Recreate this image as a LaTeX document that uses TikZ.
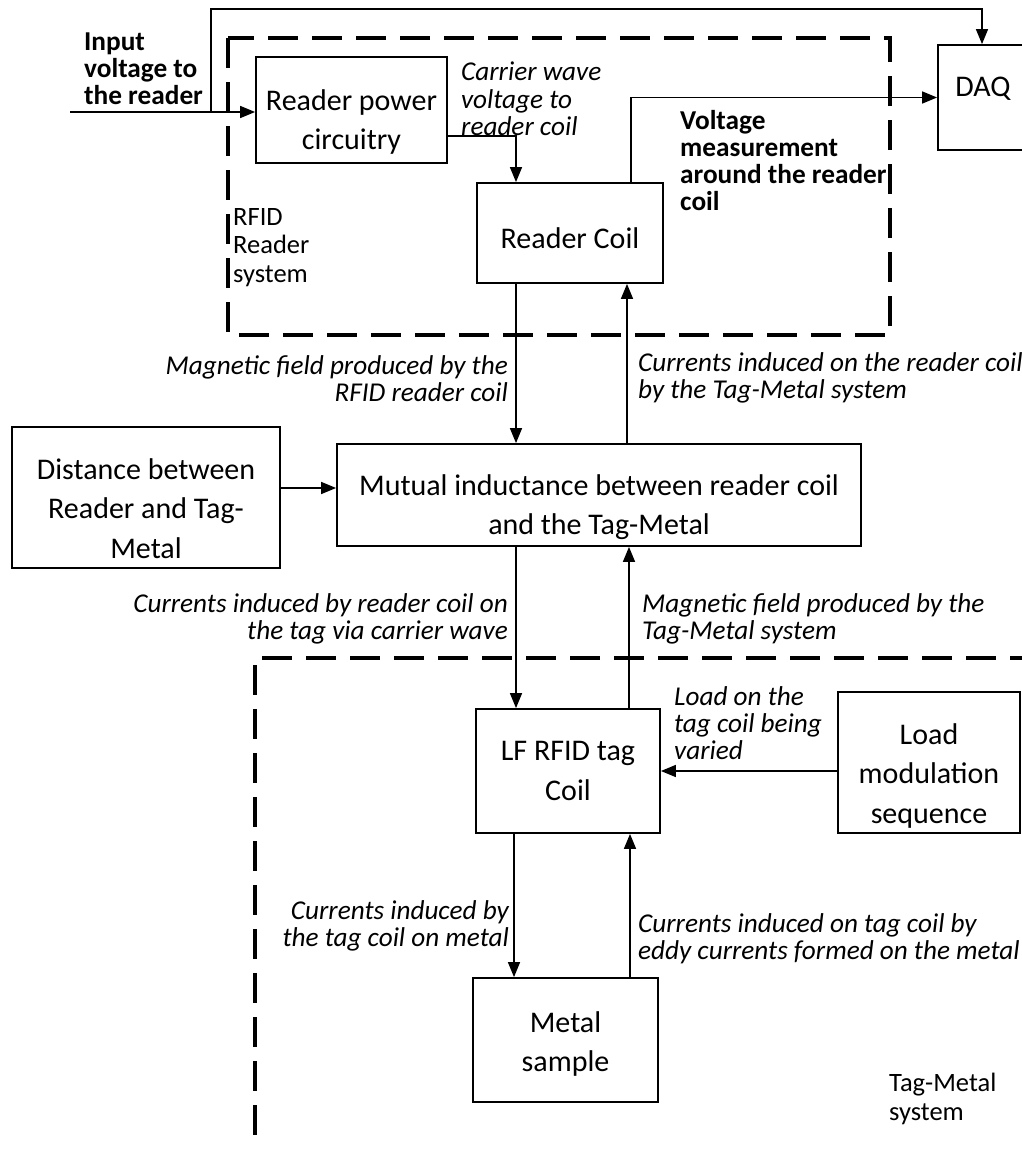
\documentclass[tikz,border=0pt]{standalone}
\usepackage{fontspec}
\setmainfont{Carlito}
\usetikzlibrary{arrows.meta}
\begin{document}
\begin{tikzpicture}[x=1pt,y=-1pt,
  box/.style={draw,line width=1.8pt,inner sep=0pt},
  btxt/.style={inner sep=0pt,align=center,font=\fontsize{30}{39.5}\selectfont},
  arr/.style={line width=1.5pt,-{Triangle[length=15pt,width=12pt]}},
  grp/.style={line width=4pt,dash pattern=on 30pt off 14pt},
  lab/.style={inner sep=0pt,font=\fontsize{27.2}{27.3}\selectfont\itshape},
  blab/.style={inner sep=0pt,align=left,font=\fontsize{27.3}{27}\selectfont\bfseries},
  plab/.style={inner sep=0pt,align=left,font=\fontsize{26.5}{28.5}\selectfont}]
\useasboundingbox (0,0) rectangle (1022,1151);
\fill[white] (0,0) rectangle (1022,1151);

% group outlines
\draw[grp] (228,38) rectangle (890,335);
\draw[grp] (1040,658) -- (255,658) -- (255,1143);

% boxes
\node[box,minimum width=191pt,minimum height=106pt] (rp) at (351.5,110) {};
\node[btxt] (rpt) at ([yshift=-12pt]rp.center) {Reader power\\circuitry};
\node[box,minimum width=186pt,minimum height=100pt] (rc) at (570,233) {};
\node[btxt] (rct) at ([yshift=-5pt]rc.center) {Reader Coil};
\node[box,minimum width=92pt,minimum height=105pt] (daq) at (984,97.5) {};
\node[btxt] (daqt) at ([xshift=-1pt,yshift=9pt]daq.center) {DAQ};
\node[box,minimum width=524pt,minimum height=102pt] (mut) at (599,495) {};
\node[btxt] (mutt) at ([yshift=-12pt]mut.center) {Mutual inductance between reader coil\\and the Tag-Metal};
\node[box,minimum width=268pt,minimum height=141pt] (dist) at (146,497.5) {};
\node[btxt] (distt) at ([yshift=-11pt]dist.center) {Distance between\\Reader and Tag-\\Metal};
\node[box,minimum width=184pt,minimum height=124pt] (tag) at (568,771) {};
\node[btxt] (tagt) at (tag.center) {LF RFID tag\\Coil};
\node[box,minimum width=182pt,minimum height=141pt] (lm) at (929,762.5) {};
\node[btxt] (lmt) at ([yshift=-13pt]lm.center) {Load\\modulation\\sequence};
\node[box,minimum width=185pt,minimum height=124pt] (met) at (565.5,1040) {};
\node[btxt] (mett) at ([yshift=-4pt]met.center) {Metal\\sample};

% helper coordinates
\coordinate (in) at (70,112);
\coordinate (jn) at (211,112);
\coordinate (tp) at (982,9);
\coordinate (ycar) at (0,136);
\coordinate (xcar) at (516,0);
\coordinate (xm) at (631,0);
\coordinate (xd1) at (516,0);
\coordinate (xu1) at (627,0);
\coordinate (xd2) at (516,0);
\coordinate (xu2) at (629,0);
\coordinate (xd3) at (514,0);
\coordinate (xu3) at (630,0);
\coordinate (ydist) at (0,488);

% connectors
\draw[arr] (in) -- (in -| rp.west);
\draw[arr] (jn) |- (tp) -- (tp |- daq.north);
\draw[arr] (rp.east |- ycar) -| (rc.north -| xcar);
\draw[arr] (rc.north -| xm) |- (daq.west);
\draw[arr] (rc.south -| xd1) -- (mut.north -| xd1);
\draw[arr] (mut.north -| xu1) -- (rc.south -| xu1);
\draw[arr] (dist.east |- ydist) -- (mut.west |- ydist);
\draw[arr] (mut.south -| xd2) -- (tag.north -| xd2);
\draw[arr] (tag.north -| xu2) -- (mut.south -| xu2);
\draw[arr] (lm.west |- tag) -- (tag.east);
\draw[arr] (tag.south -| xd3) -- (met.north -| xd3);
\draw[arr] (met.north -| xu3) -- (tag.south -| xu3);

% labels
\node[blab,anchor=north west] (l1) at (84,33) {Input\\voltage to\\the reader};
\node[lab,align=left,anchor=north west] (l2) at (461,62) {Carrier wave\\voltage to\\reader coil};
\node[blab,anchor=north west] (l3) at (680,110) {Voltage\\measurement\\around the reader\\coil};
\node[plab,anchor=north west] (l4) at (233,208) {RFID\\Reader\\system};
\node[lab,align=right,anchor=north east] (l5) at (508,355) {Magnetic field produced by the\\RFID reader coil};
\node[lab,align=left,anchor=north west] (l6) at (638,352) {Currents induced on the reader coil\\by the Tag-Metal system};
\node[lab,align=right,anchor=north east] (l7) at (508,593) {Currents induced by reader coil on\\the tag via carrier wave};
\node[lab,align=left,anchor=north west] (l8) at (642,593) {Magnetic field produced by the\\Tag-Metal system};
\node[lab,align=left,anchor=north west] (l9) at (674,686) {Load on the\\tag coil being\\varied};
\node[lab,align=right,anchor=north east] (l10) at (509,900) {Currents induced by\\the tag coil on metal};
\node[lab,align=left,anchor=north west] (l11) at (638,913) {Currents induced on tag coil by\\eddy currents formed on the metal};
\node[plab,anchor=north west] (l12) at (889,1073) {Tag-Metal\\system};
\end{tikzpicture}
\end{document}
